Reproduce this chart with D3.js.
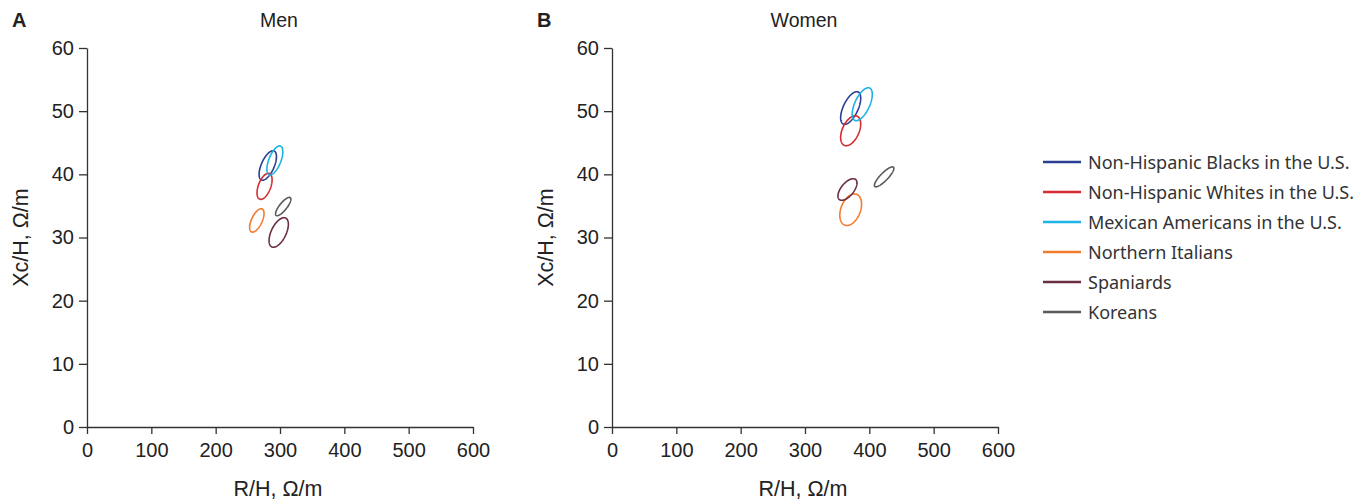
<!DOCTYPE html>
<html>
<head>
<meta charset="utf-8">
<script src="https://cdn.jsdelivr.net/npm/d3@7"></script>
<style>
  body { margin: 0; background: #fff; }
  .tick text { font-family: "Liberation Sans", Arial, sans-serif; font-size: 20px; fill: #222; }
  .domain, .tick line { stroke: #333; stroke-width: 1.3; }
</style>
</head>
<body>
<script>
// groups, same order in both panels
const groups = ["Non-Hispanic Blacks in the U.S.", "Non-Hispanic Whites in the U.S.",
  "Mexican Americans in the U.S.", "Northern Italians", "Spaniards", "Koreans"];
const colors = ["#2a3f91", "#d52b32", "#1db3e6", "#f37b2e", "#6a2d42", "#5a5a5c"];

// ellipse centres and spreads (R/H, Xc/H)
const menCx = [281, 276, 292, 264, 298, 305];
const menCy = [41.4, 38.1, 42.2, 32.7, 30.8, 34.9];
const menSx = [13.5, 11.7, 12.4, 11.2, 15.0, 11.9];
const menSy = [2.33, 2.06, 2.30, 1.85, 2.34, 1.45];
const menR  = [0.6, 0.5, 0.6, 0.6, 0.55, 0.8];

const womenCx = [371, 371, 389, 371, 366, 423];
const womenCy = [50.5, 46.9, 51.1, 34.4, 37.6, 39.6];
const womenSx = [15.6, 15.6, 15.6, 16.9, 14.8, 15.1];
const womenSy = [2.58, 2.37, 2.61, 2.5, 1.71, 1.58];
const womenR  = [0.6, 0.45, 0.6, 0.35, 0.6, 0.85];

const xTicks = [0, 100, 200, 300, 400, 500, 600];
const yTicks = [0, 10, 20, 30, 40, 50, 60];

const svg = d3.select("body").append("svg")
    .attr("width", 1370)
    .attr("height", 503);

const panels = [
  {letter: "A", title: "Men", left: 87, cx: menCx, cy: menCy, sx: menSx, sy: menSy, r: menR},
  {letter: "B", title: "Women", left: 612, cx: womenCx, cy: womenCy, sx: womenSx, sy: womenSy, r: womenR}
];

const plotW = 386, plotTop = 48, plotBottom = 427;

panels.forEach(p => {
  const x = d3.scaleLinear().domain([0, 600]).range([p.left, p.left + plotW]);
  const y = d3.scaleLinear().domain([0, 60]).range([plotBottom, plotTop]);

  svg.append("g")
      .attr("transform", `translate(0,${plotBottom})`)
      .call(d3.axisBottom(x).tickValues(xTicks).tickSize(7).tickSizeOuter(0).tickPadding(7))
      .selectAll(".tick text").attr("dy", "0.8em");

  svg.append("g")
      .attr("transform", `translate(${p.left},0)`)
      .call(d3.axisLeft(y).tickValues(yTicks).tickSize(8).tickSizeOuter(0).tickPadding(5));

  // letter + title
  svg.append("text")
      .attr("x", p.left - 75).attr("y", 27)
      .style("font", "bold 20px 'Liberation Sans', Arial, sans-serif")
      .style("fill", "#222")
      .text(p.letter);
  svg.append("text")
      .attr("x", x(300) - 1).attr("y", 27)
      .attr("text-anchor", "middle")
      .style("font", "19.5px 'Liberation Sans', Arial, sans-serif")
      .style("fill", "#222")
      .text(p.title);

  // axis labels
  svg.append("text")
      .attr("x", x(300) - 2).attr("y", 496)
      .attr("text-anchor", "middle")
      .style("font", "21.5px 'Liberation Sans', Arial, sans-serif")
      .style("fill", "#222")
      .text("R/H, \u03A9/m");
  svg.append("text")
      .attr("transform", `translate(${p.left - 59},${y(30)}) rotate(-90)`)
      .attr("text-anchor", "middle")
      .style("font", "21.5px 'Liberation Sans', Arial, sans-serif")
      .style("fill", "#222")
      .text("Xc/H, \u03A9/m");

  // confidence ellipses
  const line = d3.line().x(d => x(d[0])).y(d => y(d[1])).curve(d3.curveLinearClosed);
  groups.forEach((g, i) => {
    const pts = d3.range(0, 2 * Math.PI, Math.PI / 60).map(t => [
      p.cx[i] + p.sx[i] * Math.cos(t),
      p.cy[i] + p.sy[i] * (p.r[i] * Math.cos(t) + Math.sqrt(1 - p.r[i] * p.r[i]) * Math.sin(t))
    ]);
    svg.append("path")
        .attr("d", line(pts))
        .attr("fill", "none")
        .attr("stroke", colors[i])
        .attr("stroke-width", 1.6);
  });
});

// legend
const legend = svg.append("g").attr("transform", "translate(1043,162)");
groups.forEach((g, i) => {
  const row = legend.append("g").attr("transform", `translate(0,${i * 30})`);
  row.append("line").attr("x1", 0).attr("x2", 38)
      .attr("stroke", colors[i]).attr("stroke-width", 2.5);
  row.append("text").attr("x", 45).attr("y", 6.5)
      .style("font", "18px 'Noto Sans', sans-serif")
      .style("fill", "#333")
      .text(g);
});
</script>
</body>
</html>
